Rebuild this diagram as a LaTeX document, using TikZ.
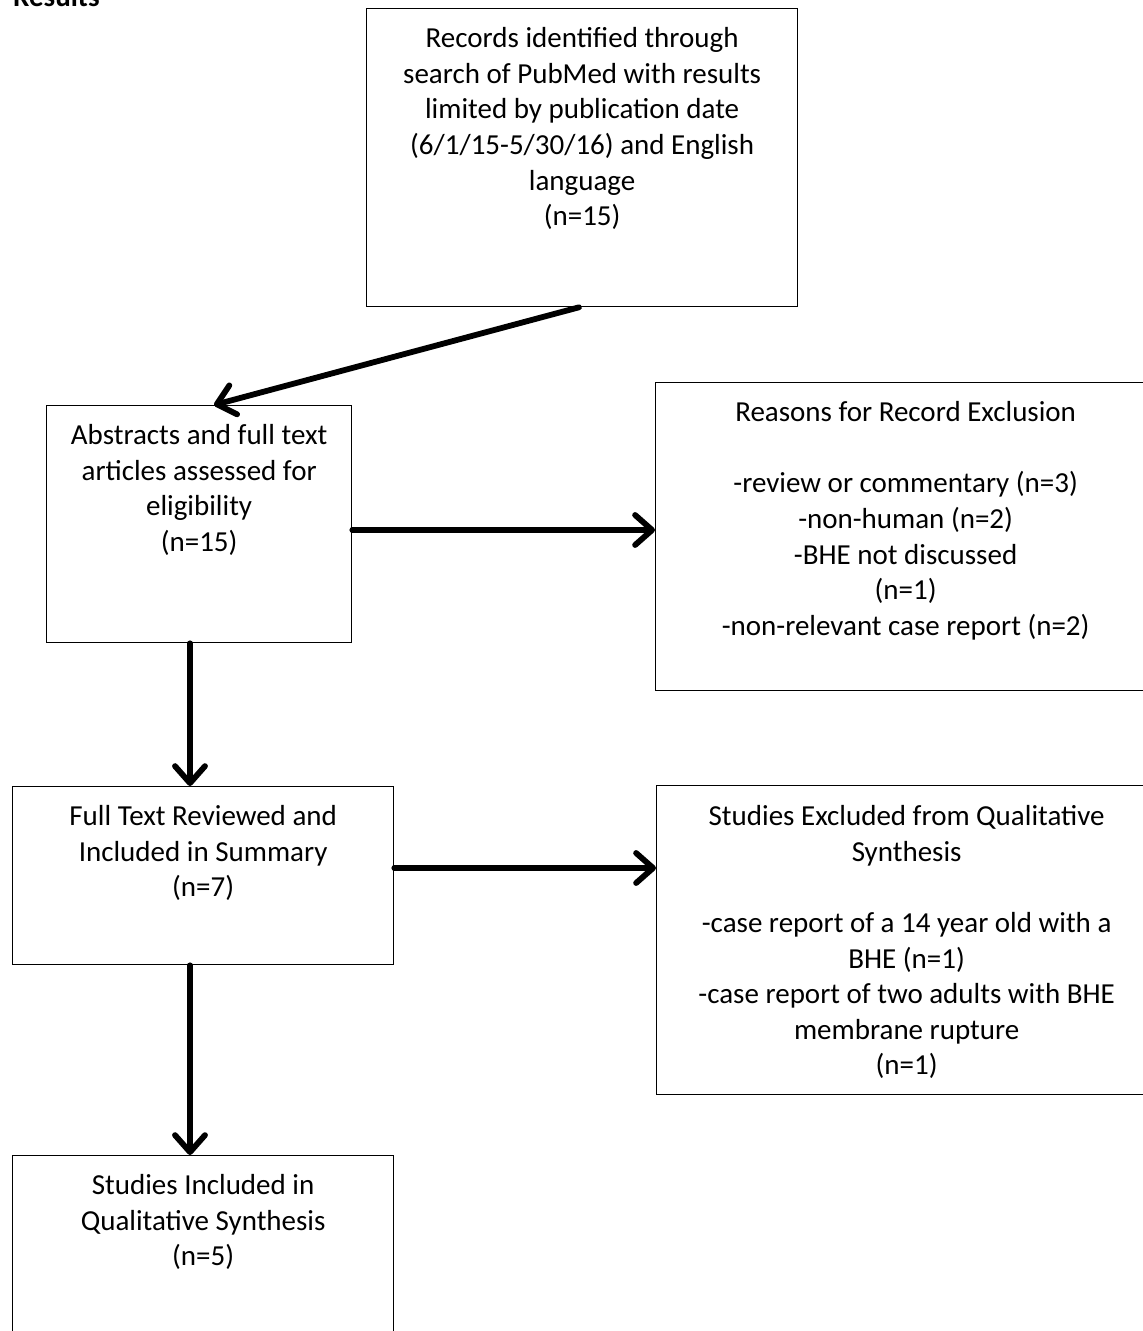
\documentclass[tikz,border=0pt]{standalone}
\usepackage{fontspec}
\setmainfont{Carlito}
\usetikzlibrary{arrows.meta}
\begin{document}
\begin{tikzpicture}[x=1pt,y=-1pt,
  box/.style={draw=black, line width=1.3pt, anchor=north west, inner sep=0pt},
  txt/.style={anchor=north, align=center, inner sep=0pt, font=\fontsize{29}{35.6}\selectfont},
  arr/.style={line width=5.8pt, line cap=round, line join=round,
    -{Straight Barb[length=17pt, width=30pt, round]}}]
\useasboundingbox (0,0) rectangle (1143,1331);
\clip (0,0) rectangle (1143,1331);

\node[anchor=base west, inner sep=0pt, font=\bfseries\fontsize{29}{35}\selectfont] (res) at (13,6) {Results};

\node[box, minimum width=431pt, minimum height=298pt] (rec) at (366,8) {};
\node[txt] (recT) at ([yshift=-17.5pt]rec.north) {\rule{0pt}{22pt}Records identified through\\search of PubMed with results\\limited by publication date\\(6/1/15-5/30/16) and English\\language\\(n=15)};

\node[box, minimum width=305pt, minimum height=237pt] (abs) at (46,405) {};
\node[txt] (absT) at ([yshift=-17.5pt]abs.north) {\rule{0pt}{22pt}Abstracts and full text\\articles assessed for\\eligibility\\(n=15)};

\node[box, minimum width=500pt, minimum height=308pt] (rea) at (655,382) {};
\node[txt] (reaT) at ([yshift=-17.5pt]rea.north) {\rule{0pt}{22pt}Reasons for Record Exclusion\\[35.6pt]-review or commentary (n=3)\\-non-human (n=2)\\-BHE not discussed\\(n=1)\\-non-relevant case report (n=2)};

\node[box, minimum width=381pt, minimum height=178pt] (ful) at (12,786) {};
\node[txt] (fulT) at ([yshift=-17.5pt]ful.north) {\rule{0pt}{22pt}Full Text Reviewed and\\Included in Summary\\(n=7)};

\node[box, minimum width=500pt, minimum height=309pt] (exc) at (656,785) {};
\node[txt] (excT) at ([yshift=-18.5pt]exc.north) {\rule{0pt}{22pt}Studies Excluded from Qualitative\\Synthesis\\[35.6pt]-case report of a 14 year old with a\\BHE (n=1)\\-case report of two adults with BHE\\membrane rupture\\(n=1)};

\node[box, minimum width=381pt, minimum height=200pt] (inc) at (12,1155) {};
\node[txt] (incT) at ([yshift=-17.5pt]inc.north) {\rule{0pt}{22pt}Studies Included in\\Qualitative Synthesis\\(n=5)};

\coordinate (xa) at (579,0);
\coordinate (xb) at (214,0);
\coordinate (xc) at (190,0);
\coordinate (ya) at (0,530);
\coordinate (yb) at (0,868);

\draw[arr] (rec.south -| xa) -- (abs.north -| xb);
\draw[arr] (abs.east |- ya) -- (rea.west |- ya);
\draw[arr] (abs.south -| xc) -- (ful.north -| xc);
\draw[arr] (ful.east |- yb) -- (exc.west |- yb);
\draw[arr] (ful.south -| xc) -- (inc.north -| xc);
\end{tikzpicture}
\end{document}
